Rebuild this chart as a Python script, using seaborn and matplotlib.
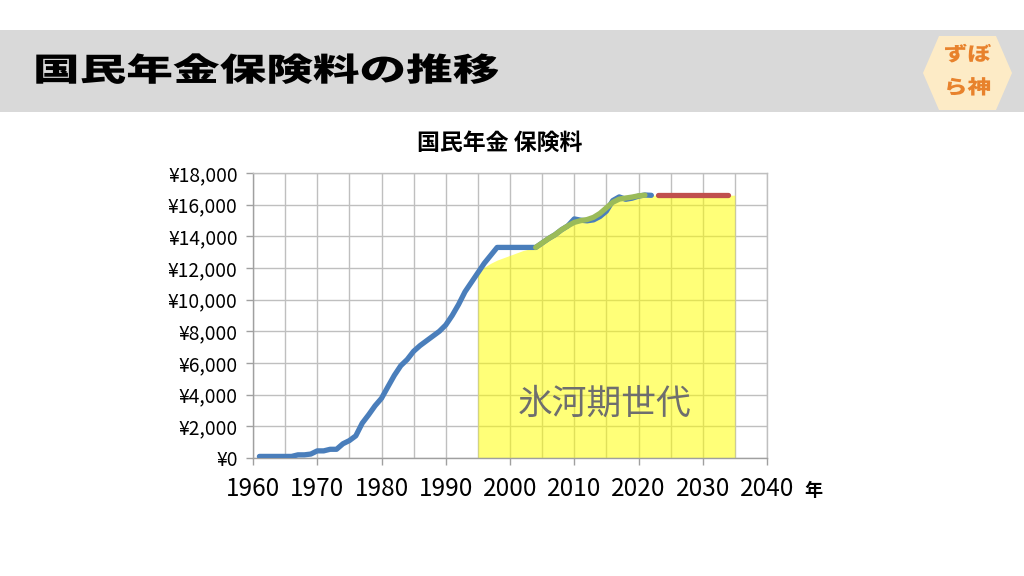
import matplotlib
matplotlib.use("Agg")
import matplotlib.pyplot as plt
import seaborn as sns
import pandas as pd
from matplotlib.patches import Rectangle, Polygon
from matplotlib.patheffects import AbstractPathEffect
from matplotlib.transforms import Affine2D
from matplotlib.ticker import MultipleLocator, FuncFormatter

# ---------------- data ----------------
blue_years = list(range(1961, 2023))
blue_values = [100, 100, 100, 100, 100, 100, 200, 200, 250, 450,
               450, 550, 550, 900, 1100, 1400, 2200, 2730, 3300, 3770,
               4500, 5220, 5830, 6220, 6740, 7100, 7400, 7700, 8000, 8400,
               9000, 9700, 10500, 11100, 11700, 12300, 12800, 13300, 13300, 13300,
               13300, 13300, 13300, 13300, 13580, 13860, 14100, 14410, 14660, 15100,
               15020, 14980, 15040, 15250, 15590, 16260, 16490, 16340, 16410, 16540,
               16610, 16590]

green_years = list(range(2004, 2022))
green_values = [13300, 13580, 13860, 14100, 14410, 14660, 14880, 14990, 15060, 15200,
                15450, 15800, 16150, 16350, 16420, 16480, 16560, 16600]

red_years = list(range(2023, 2035))
red_values = [16600, 16600, 16600, 16600, 16600, 16600, 16600, 16600, 16600, 16600,
              16600, 16600]

fill_years = list(range(1995, 2036))
fill_values = [11700, 12050, 12300, 12500, 12650, 12800, 12950, 13100, 13200, 13300,
               13580, 13860, 14100, 14410, 14660, 14880, 14990, 15060, 15200, 15450,
               15800, 16150, 16350, 16420, 16480, 16560, 16600, 16600, 16600, 16600,
               16600, 16600, 16600, 16600, 16600, 16600, 16600, 16600, 16600, 16600,
               16600]

x_ticks = [1960, 1970, 1980, 1990, 2000, 2010, 2020, 2030, 2040]
page_title = "国民年金保険料の推移"
chart_title = "国民年金 保険料"
x_unit = "年"
area_label = "氷河期世代"
logo_top = "ずぼ"
logo_bottom = "ら神"

# ---------------- style ----------------
sns.set_theme(style="white")
plt.rcParams["font.family"] = ["Noto Sans CJK JP", "DejaVu Sans"]

W, H = 1024, 576


class StretchX(AbstractPathEffect):
    """Draw text stretched horizontally around a pixel x position."""
    def __init__(self, sx, x0):
        super().__init__()
        self.sx = sx
        self.x0 = x0

    def draw_path(self, renderer, gc, tpath, affine, rgbFace=None):
        t = affine + Affine2D().translate(-self.x0, 0).scale(self.sx, 1).translate(self.x0, 0)
        renderer.draw_path(gc, tpath, t, rgbFace)


def fx(px):
    return px / W


def fy(py):
    return 1 - py / H


fig = plt.figure(figsize=(W / 100, H / 100), dpi=100)
fig.patch.set_facecolor("white")

# header bar
fig.patches.append(Rectangle((0, fy(112)), 1, 82 / H, transform=fig.transFigure,
                             facecolor="#d9d9d9", edgecolor="none", zorder=0))
fig.text(fx(33), fy(71), page_title, fontsize=23, fontweight="heavy", color="black",
         ha="left", va="center", path_effects=[StretchX(1.46, 33)])

# logo hexagon
hex_px = [(923, 73), (939, 36), (996, 36), (1012, 73), (996, 110), (939, 110)]
fig.patches.append(Polygon([(fx(x), fy(y)) for x, y in hex_px], closed=True,
                           transform=fig.transFigure, facecolor="#fdebc6",
                           edgecolor="none", zorder=1))
fig.text(fx(967.5), fy(55), logo_top, fontsize=14, fontweight="heavy", color="#e8822c",
         ha="center", va="center", path_effects=[StretchX(1.22, 967.5)])
fig.text(fx(967.5), fy(88), logo_bottom, fontsize=14, fontweight="heavy", color="#e8822c",
         ha="center", va="center", path_effects=[StretchX(1.22, 967.5)])

# chart title
fig.text(fx(500), fy(143), chart_title, fontsize=16.5, fontweight="bold", color="black",
         ha="center", va="center")

# axes
ax = fig.add_axes([fx(253), fy(458), 514 / W, 285 / H])
ax.set_facecolor("white")

ax.fill_between(fill_years, fill_values, 0, color="#ffff00", alpha=0.53,
                linewidth=0, zorder=2)

df_blue = pd.DataFrame({"year": blue_years, "fee": blue_values})
df_green = pd.DataFrame({"year": green_years, "fee": green_values})
df_red = pd.DataFrame({"year": red_years, "fee": red_values})

sns.lineplot(data=df_blue, x="year", y="fee", ax=ax, color="#4a7ebb", linewidth=3.8,
             solid_capstyle="round", solid_joinstyle="round", zorder=3)
sns.lineplot(data=df_green, x="year", y="fee", ax=ax, color="#9bbb59", linewidth=3.8,
             solid_capstyle="round", solid_joinstyle="round", zorder=4)
sns.lineplot(data=df_red, x="year", y="fee", ax=ax, color="#c0504d", linewidth=3.8,
             solid_capstyle="round", solid_joinstyle="round", zorder=4)

ax.set_xlim(1960, 2040)
ax.set_ylim(0, 18000)
ax.set_xticks(x_ticks)
ax.xaxis.set_minor_locator(MultipleLocator(5))
ax.yaxis.set_major_locator(MultipleLocator(2000))
ax.yaxis.set_major_formatter(FuncFormatter(lambda v, p: f"¥{int(v):,}"))
ax.set_xlabel("")
ax.set_ylabel("")

ax.grid(True, which="both", axis="x", color="#bfbfbf", linewidth=1.0, zorder=1)
ax.grid(True, which="major", axis="y", color="#bfbfbf", linewidth=1.0, zorder=1)
ax.set_axisbelow(True)
for s in ax.spines.values():
    s.set_color("#bfbfbf")
    s.set_linewidth(1.0)
ax.spines["left"].set_color("#a0a0a0")
ax.spines["bottom"].set_color("#a0a0a0")

ax.tick_params(axis="x", which="major", length=5, width=1, color="#a0a0a0",
               direction="out", bottom=True, labelsize=17.5, pad=8, labelcolor="black")
ax.tick_params(axis="x", which="minor", length=0)
ax.tick_params(axis="y", which="major", length=5, width=1, color="#a0a0a0",
               direction="out", left=True, labelsize=13.8, pad=6, labelcolor="black")

ax.text(2014.8, 3420, area_label, fontsize=25, color="#6e6e6e",
        ha="center", va="center", zorder=5)

fig.text(fx(813), fy(490), x_unit, fontsize=13, fontweight="bold", color="black",
         ha="center", va="center")

fig.savefig("out.png", dpi=100)
